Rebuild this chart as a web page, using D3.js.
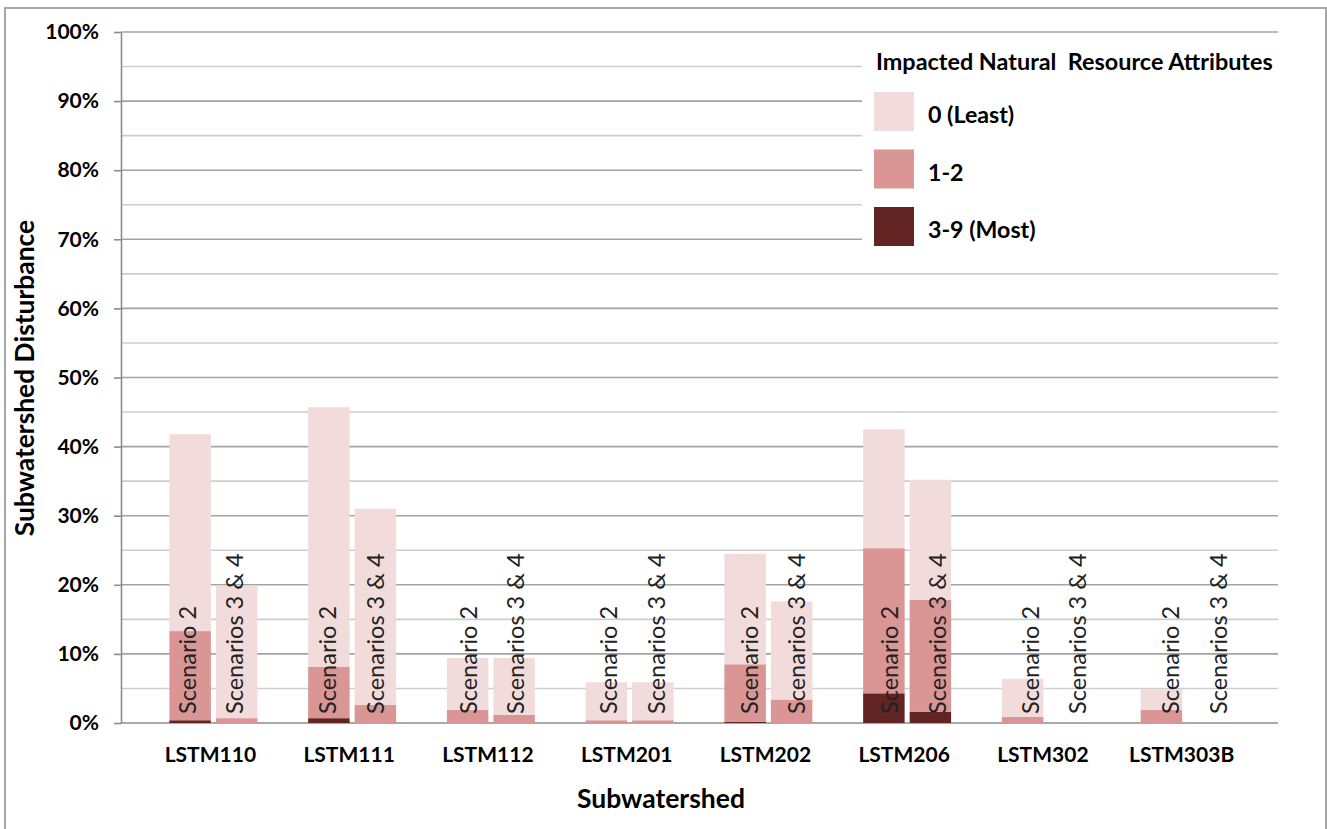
<!DOCTYPE html>
<html>
<head>
<meta charset="utf-8">
<script src="https://cdn.jsdelivr.net/npm/d3@7/dist/d3.min.js"></script>
<style>
  html, body { margin: 0; padding: 0; background: #ffffff; }
  svg { display: block; font-family: Lato, "Open Sans", sans-serif; }
</style>
</head>
<body>
<svg id="chart" width="1327" height="829"></svg>
<script>
// Subwatersheds shown along the x axis
const categories = ["LSTM110", "LSTM111", "LSTM112", "LSTM201", "LSTM202", "LSTM206", "LSTM302", "LSTM303B"];
// Two scenario bars per subwatershed
const scenarios = ["Scenario 2", "Scenarios 3 & 4"];

// Disturbance (% of subwatershed) by number of impacted natural resource attributes
const scenario2Most  = [0.4, 0.7, 0.0, 0.0, 0.2, 4.3, 0.0, 0.0];
const scenario2Mid   = [12.9, 7.4, 1.9, 0.4, 8.3, 21.0, 0.9, 1.9];
const scenario2Least = [28.5, 37.6, 7.5, 5.5, 16.0, 17.2, 5.5, 3.0];

const scenario34Most  = [0.0, 0.0, 0.0, 0.0, 0.0, 1.6, 0.0, 0.0];
const scenario34Mid   = [0.7, 2.6, 1.2, 0.4, 3.4, 16.2, 0.0, 0.0];
const scenario34Least = [19.2, 28.4, 8.2, 5.5, 14.2, 17.4, 0.0, 0.0];

// Legend entries, top to bottom
const legendLabels = ["0 (Least)", "1-2", "3-9 (Most)"];
const legendTitle = "Impacted Natural  Resource Attributes";

// Axis ticks
const yTicks = [0, 10, 20, 30, 40, 50, 60, 70, 80, 90, 100];
const yGridSteps = [5, 10, 15, 20, 25, 30, 35, 40, 45, 50, 55, 60, 65, 70, 75, 80, 85, 90, 95, 100];

const xTitle = "Subwatershed";
const yTitle = "Subwatershed Disturbance";

// ---- table for stacking ----
const keys = ["most", "mid", "least"];
const colors = { least: "#f2dcdb", mid: "#d99694", most: "#632523" };

const rows = [];
categories.forEach((cat, i) => {
  rows.push({ cat, scen: scenarios[0], most: scenario2Most[i], mid: scenario2Mid[i], least: scenario2Least[i] });
  rows.push({ cat, scen: scenarios[1], most: scenario34Most[i], mid: scenario34Mid[i], least: scenario34Least[i] });
});
const series = d3.stack().keys(keys)(rows);

// ---- layout ----
const svg = d3.select("#chart");
const plotLeft = 121, plotRight = 1278, plotTop = 32, plotBottom = 723;

const y = d3.scaleLinear().domain([0, 100]).range([plotBottom, plotTop]);
const x0 = d3.scaleBand().domain(categories).range([144, 1254]).paddingInner(0.366).paddingOuter(0.183);
const x1 = d3.scaleBand().domain(scenarios).range([0, x0.bandwidth()]).paddingInner(0.1075);
// scenario captions sit on a slightly wider spacing than the bars
const xLabel = d3.scaleBand().domain(categories).range([141, 1265]).paddingInner(0.366).paddingOuter(0.183);
const x1Label = d3.scaleBand().domain(scenarios).range([0, xLabel.bandwidth()]).paddingInner(0.1075);

// outer chart frame
svg.append("rect")
  .attr("x", 5).attr("y", 8)
  .attr("width", 1321).attr("height", 840)
  .attr("fill", "none")
  .attr("stroke", "#a6a6a6")
  .attr("stroke-width", 2);

// gridlines
svg.append("g")
  .selectAll("line")
  .data(yGridSteps)
  .join("line")
  .attr("x1", plotLeft).attr("x2", plotRight)
  .attr("y1", d => y(d)).attr("y2", d => y(d))
  .attr("stroke", d => d % 10 === 0 ? "#a3a3a3" : "#cdcdcd")
  .attr("stroke-width", 1.6);

// baseline
svg.append("line")
  .attr("x1", plotLeft).attr("x2", plotRight)
  .attr("y1", y(0)).attr("y2", y(0))
  .attr("stroke", "#8c8c8c").attr("stroke-width", 1.6);

// y axis
const yAxis = svg.append("g")
  .attr("transform", `translate(${plotLeft},0)`)
  .call(d3.axisLeft(y).tickValues(yTicks).tickSizeInner(7).tickSizeOuter(0).tickPadding(15).tickFormat(d => d + "%"));
yAxis.select(".domain").attr("stroke", "#8c8c8c").attr("stroke-width", 1.6);
yAxis.selectAll(".tick line").attr("stroke", "#8c8c8c").attr("stroke-width", 1.6);
yAxis.selectAll(".tick text")
  .attr("fill", "#000")
  .style("font-size", "21px")
  .style("font-weight", "bold")
  .style("font-family", "Lato, sans-serif");

// legend background covers the gridlines behind it
const legend = svg.append("g");
legend.append("rect")
  .attr("x", 862).attr("y", 45).attr("width", 430).attr("height", 207)
  .attr("fill", "#ffffff");

// stacked bars
svg.append("g")
  .selectAll("g")
  .data(series)
  .join("g")
  .attr("fill", d => colors[d.key])
  .selectAll("rect")
  .data(d => d)
  .join("rect")
  .attr("x", d => x0(d.data.cat) + x1(d.data.scen))
  .attr("width", x1.bandwidth())
  .attr("y", d => y(d[1]))
  .attr("height", d => y(d[0]) - y(d[1]));

// scenario captions, rotated inside each bar
svg.append("g")
  .selectAll("text")
  .data(rows)
  .join("text")
  .attr("transform", d => `translate(${xLabel(d.cat) + x1Label(d.scen) + x1Label.bandwidth() / 2},${y(0) - 9}) rotate(-90)`)
  .attr("dy", "0.35em")
  .attr("fill", "#222")
  .style("font-size", "23.5px")
  .style("font-family", "Lato, sans-serif")
  .text(d => d.scen);

// x axis category labels
const xAxis = svg.append("g")
  .attr("transform", `translate(0,${plotBottom})`)
  .call(d3.axisBottom(x0).tickSize(0).tickPadding(24));
xAxis.select(".domain").remove();
xAxis.selectAll(".tick text")
  .attr("fill", "#000")
  .attr("x", -3)
  .style("font-size", "21px")
  .style("font-weight", "bold")
  .style("font-family", "Lato, sans-serif");

// axis titles
svg.append("text")
  .attr("x", 661).attr("y", 808)
  .attr("text-anchor", "middle")
  .attr("fill", "#000")
  .style("font-size", "26.5px")
  .style("font-weight", "bold")
  .text(xTitle);

svg.append("text")
  .attr("transform", "translate(34,378) rotate(-90)")
  .attr("text-anchor", "middle")
  .attr("fill", "#000")
  .style("font-size", "26.4px")
  .style("font-weight", "bold")
  .text(yTitle);

// legend contents
legend.append("text")
  .attr("x", 876).attr("y", 70)
  .attr("fill", "#000")
  .style("font-size", "23.4px")
  .style("font-weight", "bold")
  .style("white-space", "pre")
  .text(legendTitle);

const legendColors = [colors.least, colors.mid, colors.most];
const legendItems = legend.selectAll("g.item")
  .data(legendLabels)
  .join("g")
  .attr("class", "item")
  .attr("transform", (d, i) => `translate(874,${92 + i * 57.5})`);
legendItems.append("rect")
  .attr("width", 40).attr("height", 39)
  .attr("fill", (d, i) => legendColors[i]);
legendItems.append("text")
  .attr("x", 54).attr("y", 31)
  .attr("fill", "#000")
  .style("font-size", "23.2px")
  .style("font-weight", "bold")
  .text(d => d);
</script>
</body>
</html>
